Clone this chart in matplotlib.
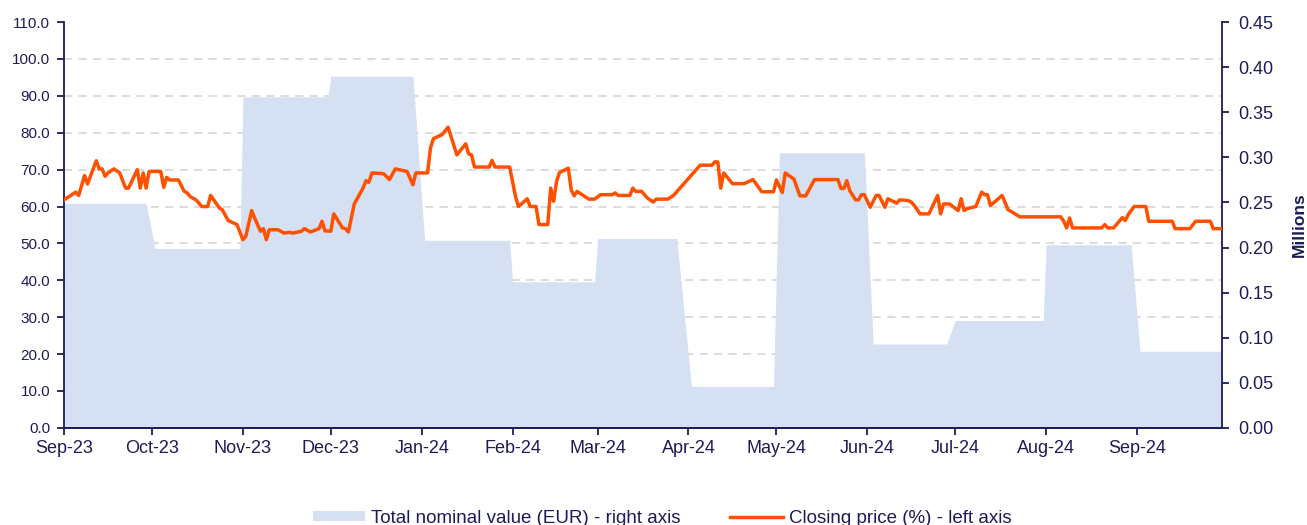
import matplotlib
matplotlib.use("Agg")
import matplotlib.pyplot as plt
import matplotlib.dates as mdates
from matplotlib.patches import Patch
from matplotlib.lines import Line2D
from matplotlib.ticker import FixedLocator, FormatStrFormatter, MultipleLocator
import numpy as np
import pandas as pd

# Total nominal value (EUR millions) - one value per month, right axis
months = ['2023-09', '2023-10', '2023-11', '2023-12', '2024-01', '2024-02', '2024-03',
          '2024-04', '2024-05', '2024-06', '2024-07', '2024-08', '2024-09']
nominal = [0.249, 0.199, 0.367, 0.390, 0.208, 0.162, 0.210,
           0.046, 0.305, 0.093, 0.119, 0.203, 0.085]

# market holidays (no trading day)
holidays = ['2023-12-25', '2023-12-26', '2024-01-01', '2024-03-29', '2024-04-01', '2024-05-01']

# Closing price (%) - left axis
price_dates = [
    '2023-09-01', '2023-09-05', '2023-09-06', '2023-09-08', '2023-09-09', '2023-09-12',
    '2023-09-13', '2023-09-14', '2023-09-15', '2023-09-16', '2023-09-18', '2023-09-20',
    '2023-09-22', '2023-09-23', '2023-09-26', '2023-09-27', '2023-09-28', '2023-09-29',
    '2023-09-30', '2023-10-04', '2023-10-05', '2023-10-06', '2023-10-07', '2023-10-10',
    '2023-10-12', '2023-10-13', '2023-10-14', '2023-10-16', '2023-10-18', '2023-10-20',
    '2023-10-21', '2023-10-24', '2023-10-25', '2023-10-27', '2023-10-30', '2023-11-01',
    '2023-11-02', '2023-11-04', '2023-11-05', '2023-11-07', '2023-11-08', '2023-11-09',
    '2023-11-10', '2023-11-13', '2023-11-15', '2023-11-17', '2023-11-18', '2023-11-21',
    '2023-11-22', '2023-11-24', '2023-11-27', '2023-11-28', '2023-11-29', '2023-12-01',
    '2023-12-02', '2023-12-05', '2023-12-06', '2023-12-07', '2023-12-09', '2023-12-12',
    '2023-12-13', '2023-12-14', '2023-12-15', '2023-12-19', '2023-12-21', '2023-12-23',
    '2023-12-27', '2023-12-29', '2023-12-30', '2024-01-03', '2024-01-04', '2024-01-05',
    '2024-01-08', '2024-01-10', '2024-01-13', '2024-01-16', '2024-01-17', '2024-01-18',
    '2024-01-19', '2024-01-24', '2024-01-25', '2024-01-26', '2024-01-31', '2024-02-02',
    '2024-02-03', '2024-02-06', '2024-02-07', '2024-02-09', '2024-02-10', '2024-02-13',
    '2024-02-14', '2024-02-15', '2024-02-16', '2024-02-17', '2024-02-20', '2024-02-21',
    '2024-02-22', '2024-02-23', '2024-02-27', '2024-02-29', '2024-03-02', '2024-03-06',
    '2024-03-07', '2024-03-08', '2024-03-12', '2024-03-13', '2024-03-14', '2024-03-16',
    '2024-03-18', '2024-03-20', '2024-03-21', '2024-03-25', '2024-03-27', '2024-04-05',
    '2024-04-09', '2024-04-10', '2024-04-11', '2024-04-12', '2024-04-13', '2024-04-16',
    '2024-04-20', '2024-04-23', '2024-04-26', '2024-04-30', '2024-05-01', '2024-05-03',
    '2024-05-04', '2024-05-07', '2024-05-09', '2024-05-11', '2024-05-14', '2024-05-22',
    '2024-05-23', '2024-05-24', '2024-05-25', '2024-05-26', '2024-05-28', '2024-05-29',
    '2024-05-30', '2024-05-31', '2024-06-02', '2024-06-04', '2024-06-05', '2024-06-07',
    '2024-06-08', '2024-06-11', '2024-06-12', '2024-06-15', '2024-06-16', '2024-06-17',
    '2024-06-19', '2024-06-22', '2024-06-25', '2024-06-26', '2024-06-27', '2024-06-29',
    '2024-07-02', '2024-07-03', '2024-07-04', '2024-07-05', '2024-07-08', '2024-07-10',
    '2024-07-11', '2024-07-12', '2024-07-13', '2024-07-17', '2024-07-19', '2024-07-20',
    '2024-07-23', '2024-08-06', '2024-08-07', '2024-08-08', '2024-08-09', '2024-08-10',
    '2024-08-20', '2024-08-21', '2024-08-22', '2024-08-24', '2024-08-27', '2024-08-28',
    '2024-08-29', '2024-08-31', '2024-09-04', '2024-09-05', '2024-09-13', '2024-09-14',
    '2024-09-19', '2024-09-21', '2024-09-26', '2024-09-27', '2024-09-30']
price_values = [
    61.8, 63.9, 63.0, 68.4, 66.1, 72.4,
    70.2, 70.2, 68.2, 69.1, 70.2, 69.1,
    65.0, 65.0, 70.0, 65.0, 69.1, 65.0,
    69.5, 69.5, 65.2, 67.9, 67.2, 67.2,
    64.1, 63.7, 62.7, 61.8, 60.0, 60.0,
    63.0, 59.6, 59.1, 56.2, 55.1, 51.0,
    51.9, 58.9, 56.9, 53.3, 54.0, 51.0,
    53.7, 53.7, 52.8, 53.0, 52.8, 53.3,
    54.0, 53.1, 54.0, 56.0, 53.4, 53.3,
    58.0, 54.2, 54.0, 53.1, 60.7, 65.0,
    67.0, 66.6, 69.1, 68.9, 67.3, 70.2,
    69.5, 65.9, 69.1, 69.1, 75.9, 78.4,
    79.5, 81.5, 74.0, 77.0, 74.3, 74.0,
    70.7, 70.7, 72.5, 70.7, 70.7, 62.7,
    60.0, 62.1, 60.0, 60.0, 55.1, 55.1,
    65.0, 61.4, 66.8, 69.2, 70.4, 64.5,
    62.9, 64.1, 62.0, 62.0, 63.2, 63.2,
    63.7, 63.0, 63.0, 65.0, 64.1, 64.1,
    62.3, 61.2, 62.0, 62.0, 63.1, 71.2,
    71.2, 72.1, 72.1, 65.0, 69.1, 66.2,
    66.2, 67.3, 64.0, 64.0, 67.2, 63.8,
    69.1, 67.4, 62.9, 62.9, 67.3, 67.3,
    64.9, 64.9, 67.0, 64.3, 61.8, 61.8,
    63.2, 63.2, 59.8, 63.0, 63.0, 59.8,
    62.1, 60.9, 61.8, 61.6, 61.2, 60.3,
    58.0, 58.0, 63.0, 58.0, 60.7, 60.7,
    58.9, 62.1, 58.9, 59.4, 60.0, 63.9,
    63.2, 63.2, 60.3, 63.0, 59.1, 58.7,
    57.2, 57.2, 56.0, 54.2, 56.9, 54.2,
    54.2, 55.1, 54.2, 54.2, 57.0, 56.2,
    57.8, 60.0, 60.0, 56.0, 56.0, 54.0,
    54.0, 56.0, 56.0, 54.0, 54.0]

navy = '#1c1c58'
area_col = '#d6e0f3'
line_col = '#ff5000'
grid_col = '#d9d9d9'

plt.rcParams['font.family'] = ['Liberation Sans', 'DejaVu Sans']

# business days, each carrying its month's nominal value
days = pd.bdate_range('2023-09-01', '2024-09-30', freq='C', holidays=holidays)
s_nom = pd.Series(nominal, index=pd.PeriodIndex(months, freq='M'))
day_nom = s_nom.reindex(days.to_period('M')).values

fig = plt.figure(figsize=(13.07, 5.25), dpi=100)
ax = fig.add_axes([0.049, 0.185, 0.886, 0.773])
ax2 = ax.twinx()
ax.set_zorder(ax2.get_zorder() + 1)
ax.patch.set_visible(False)

# left axis
left_max = 110
right_max = 0.45
ax.set_ylim(0, left_max)
ax.yaxis.set_major_locator(MultipleLocator(10))
ax.yaxis.set_major_formatter(FormatStrFormatter('%.1f'))

# right axis + area (gridlines drawn here so the area covers them)
ax2.set_ylim(0, right_max)
ax2.yaxis.set_major_locator(MultipleLocator(0.05))
ax2.yaxis.set_major_formatter(FormatStrFormatter('%.2f'))
ax2.fill_between(days, 0, day_nom, color=area_col, lw=0, zorder=2)
left_ticks = np.arange(10, left_max + 1, 10)
ax2.yaxis.set_minor_locator(FixedLocator(left_ticks * right_max / left_max))
ax2.grid(which='minor', axis='y', color=grid_col, linestyle=(0, (4.5, 3.5)), lw=1.3, zorder=0)
ax2.set_axisbelow(True)
ax2.tick_params(axis='y', which='minor', length=0)

# closing price line
ax.plot(pd.to_datetime(price_dates), price_values, color=line_col, lw=2.5, zorder=3)

ax.set_xlim(pd.Timestamp('2023-09-01'), pd.Timestamp('2024-09-30'))
ax.xaxis.set_major_locator(mdates.MonthLocator())
ax.xaxis.set_major_formatter(mdates.DateFormatter('%b-%y'))

for a in (ax, ax2):
    for sp in a.spines.values():
        sp.set_color(navy)
        sp.set_linewidth(1.3)
    a.spines['top'].set_visible(False)
ax.spines['right'].set_visible(False)
ax2.spines['left'].set_visible(False)

ax.tick_params(axis='y', direction='out', length=5, width=1.3, color=navy,
               labelcolor=navy, labelsize=11, pad=5)
ax.tick_params(axis='x', direction='out', length=5, width=1.3, color=navy,
               labelcolor=navy, labelsize=13, pad=4)
ax2.tick_params(axis='y', which='major', direction='out', length=5, width=1.3, color=navy,
                labelcolor=navy, labelsize=13, pad=7)

ax2.set_ylabel('Millions', color=navy, fontsize=12.5, fontweight='bold', labelpad=13)

handles = [Patch(facecolor=area_col, edgecolor='none'),
           Line2D([], [], color=line_col, lw=2.5)]
labels = ['Total nominal value (EUR) - right axis', 'Closing price (%) - left axis']
fig.legend(handles, labels, loc='center', bbox_to_anchor=(0.5065, 0.013), ncol=2,
           frameon=False, fontsize=13.5, labelcolor=navy, handlelength=2.8,
           handleheight=0.5, handletextpad=0.32, columnspacing=2.65)

fig.savefig('out.png', dpi=100)
